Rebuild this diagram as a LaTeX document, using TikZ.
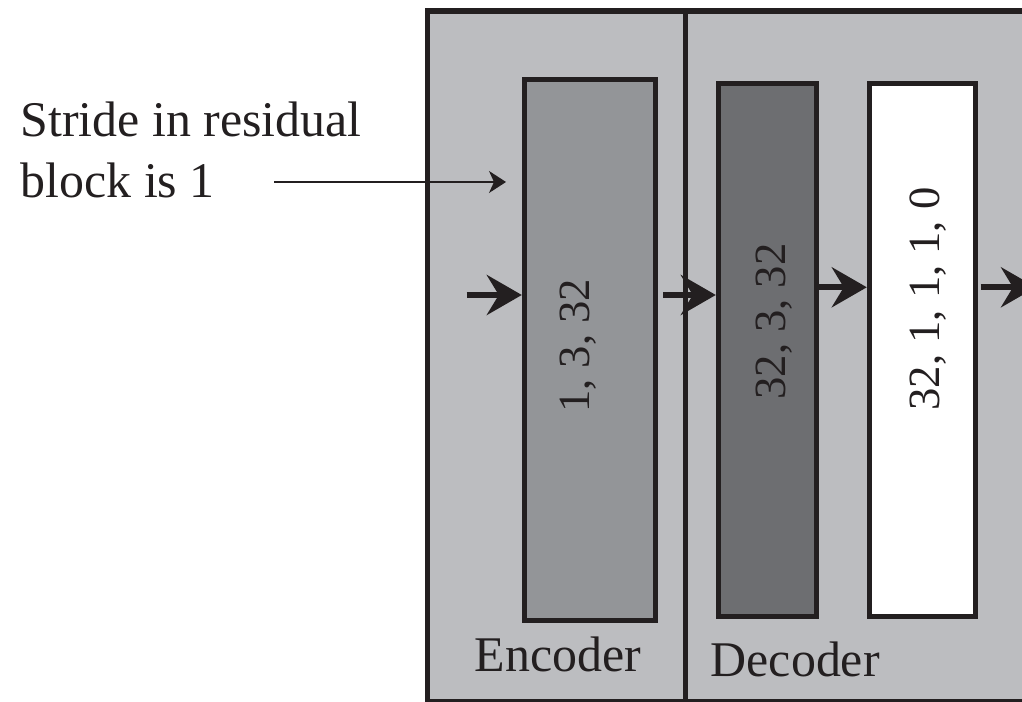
\documentclass[tikz,border=0pt]{standalone}
\usepackage{fontspec}
\setmainfont{Liberation Serif}
\usetikzlibrary{arrows.meta}

\definecolor{panelgray}{HTML}{BCBDC0}
\definecolor{encgray}{HTML}{939598}
\definecolor{decgray}{HTML}{6D6E71}
\definecolor{edgeblack}{HTML}{231F20}

\tikzset{
    frame/.style={draw=edgeblack, line width=1.56pt},
    layer/.style={draw=edgeblack, line width=1.42pt, inner sep=0pt},
    layertext/.style={rotate=90, inner sep=0pt, text=edgeblack,
        font=\fontsize{12.7pt}{15pt}\selectfont},
    label/.style={inner sep=0pt, text=edgeblack,
        font=\fontsize{14.2pt}{17.55pt}\selectfont},
    bigarrow/.style={draw=edgeblack, line width=1.7pt,
        -{Stealth[length=3.5mm, width=4mm, inset=1.2mm]}},
    thinarrow/.style={draw=edgeblack, line width=0.45pt,
        -{Stealth[length=1.7mm, width=2.2mm, inset=0.5mm]}}
}

\begin{document}
\begin{tikzpicture}
    \useasboundingbox (0,0) rectangle (10.22,7.02);
    \clip (0,0) rectangle (10.22,7.02);

    \draw[frame, fill=panelgray] (4.275,0) rectangle (10.6,6.91);
    \draw[frame] (6.857,6.91) -- (6.857,0);

    \node[layer, fill=encgray, minimum width=1.312cm, minimum height=5.415cm] (enc) at (5.899,3.5175) {};
    \node[layer, fill=decgray, minimum width=0.985cm, minimum height=5.334cm] (dec) at (7.6755,3.52) {};
    \node[layer, fill=white, minimum width=1.057cm, minimum height=5.334cm] (out) at (9.2215,3.52) {};

    \node[layertext] (enc-t) at (5.78,3.56) {1, 3, 32};
    \node[layertext] (dec-t) at (7.74,3.805) {32, 3, 32};
    \node[layertext] (out-t) at (9.28,4.03) {32, 1, 1, 1, 0};

    \node[label, anchor=base west] (enc-l) at (4.74,0.30) {Encoder};
    \node[label, anchor=base west] (dec-l) at (7.10,0.25) {Decoder};

    \node[label, anchor=north west, align=left] (note) at (0.20,6.011) {Stride in residual\\block is 1};

    \coordinate (lo) at (0,4.07);
    \coordinate (hi) at (0,4.147);
    \coordinate (in) at (4.667,4.07);
    \coordinate (exit) at (10.36,4.147);
    \coordinate (ptr-s) at (2.74,5.20);
    \coordinate (ptr-e) at (5.06,5.20);

    \draw[bigarrow] (in) -- (enc.west |- lo);
    \draw[bigarrow] ([xshift=0.5mm]enc.east |- lo) -- (dec.west |- lo);
    \draw[bigarrow] (dec.east |- hi) -- (out.west |- hi);
    \draw[bigarrow] ([xshift=0.3mm]out.east |- hi) -- (exit);
    \draw[thinarrow] (ptr-s) -- (ptr-e);
\end{tikzpicture}
\end{document}
